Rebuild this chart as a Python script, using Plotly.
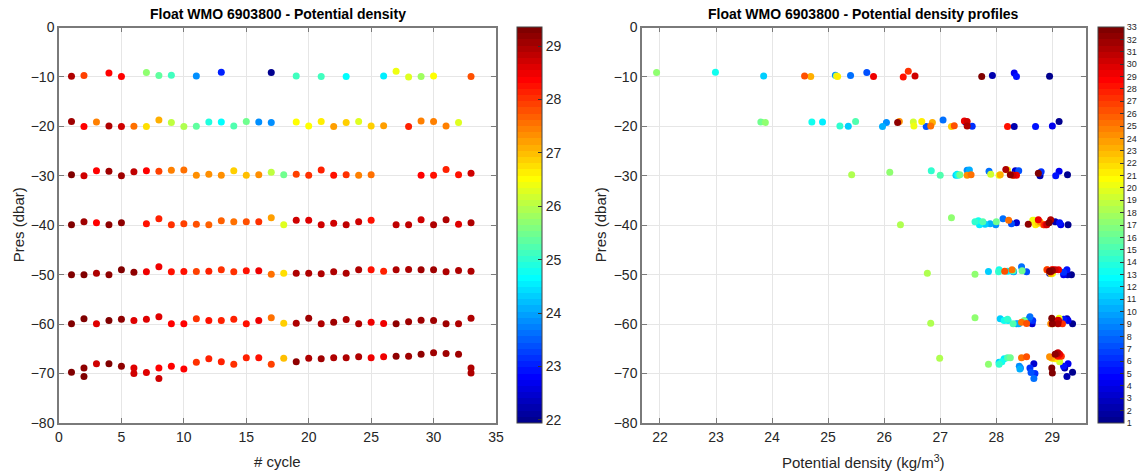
import numpy as np
import plotly.graph_objects as go

# ---------------- data (one list per nominal pressure level) ----------------
CYC_10 = [1, 2, 4, 5, 7, 8, 9, 11, 13, 17, 19, 21, 23, 26, 27, 28, 29, 30, 33]
PRES_10 = [-9.86, -9.7, -9.2, -9.9, -9.1, -9.7, -9.65, -9.8, -9.05, -9.1, -9.8, -9.9, -9.9, -9.8, -8.85, -10.0, -9.9, -9.8, -9.9]
DENS_10 = [28.95, 27.93, 28.32, 28.36, 25.69, 25.4, 25.13, 23.85, 22.99, 21.94, 25.15, 25.17, 24.69, 24.58, 26.43, 26.34, 25.81, 26.55, 27.74]

CYC_20 = [1, 2, 3, 4, 5, 6, 7, 8, 9, 10, 11, 12, 13, 14, 15, 16, 17, 19, 20, 21, 22, 23, 24, 25, 26, 28, 29, 30, 31, 32]
PRES_20 = [-19.0, -20.0, -19.1, -19.9, -20.0, -19.95, -20.0, -18.7, -19.2, -20.0, -19.95, -19.1, -19.1, -19.9, -19.0, -19.1, -19.2,
           -19.1, -19.9, -19.0, -20.0, -19.2, -19.0, -19.9, -19.85, -20.0, -18.9, -19.0, -19.9, -19.2]
DENS_20 = [29.12, 28.32, 27.45, 29.0, 28.7, 27.57, 26.75, 27.05, 26.04, 25.97, 25.36, 24.9, 24.71, 25.21, 25.49, 23.8, 23.88,
           26.52, 26.53, 26.67, 27.2, 26.86, 26.27, 26.83, 27.25, 28.2, 27.43, 27.48, 27.48, 26.24]

CYC_30 = list(range(1, 26)) + [29, 30, 31, 32, 33]
PRES_30 = [-29.8, -30.0, -29.0, -29.1, -30.0, -29.2, -29.0, -29.1, -28.9, -28.8, -29.9, -29.7, -29.9, -29.0, -29.9, -29.8, -29.3,
           -29.8, -29.7, -29.9, -28.8, -29.9, -29.8, -29.9, -29.8, -29.9, -29.9, -28.7, -29.8, -29.5]
DENS_30 = [29.27, 28.78, 28.34, 29.12, 29.06, 28.8, 28.4, 27.87, 27.48, 27.52, 27.28, 27.3, 27.32, 26.84, 27.0, 27.35, 26.1,
           25.42, 27.9, 28.05, 28.2, 28.3, 28.07, 27.48, 27.55, 28.36, 28.3, 28.17, 28.25, 28.75]

CYC_40 = [1, 2, 3, 4, 5] + list(range(7, 26)) + list(range(27, 34))
PRES_40 = [-39.9, -39.3, -39.5, -39.9, -39.5, -39.7, -38.7, -39.9, -39.7, -39.8, -39.9, -39.1, -39.3, -39.3, -39.3, -38.5,
           -39.9, -39.0, -39.0, -39.9, -39.6, -39.9, -39.3, -39.0, -39.9, -39.9, -38.9, -39.9, -38.9, -39.8, -39.5]
DENS_40 = [29.28, 29.05, 28.36, 29.15, 29.13, 28.27, 28.12, 27.99, 27.89, 27.8, 27.7, 27.68, 27.62, 27.76, 28.0, 27.2,
           26.29, 28.68, 28.65, 28.7, 28.75, 28.84, 28.78, 28.22, 28.85, 28.88, 28.75, 28.9, 28.97, 28.57, 28.94]

CYC_50 = list(range(1, 34))
PRES_50 = [-50.0, -50.0, -49.7, -50.0, -49.0, -49.5, -49.4, -48.4, -49.4, -49.35, -49.35, -49.3, -49.0, -49.4, -49.2, -49.2,
           -49.9, -49.7, -49.7, -49.7, -49.8, -49.4, -49.7, -49.0, -49.0, -49.3, -49.0, -48.95, -49.0, -49.0, -49.4, -49.15, -49.3]
DENS_50 = [29.34, 29.27, 28.95, 29.2, 29.26, 29.2, 28.54, 28.45, 28.31, 28.3, 27.86, 28.2, 28.05, 28.04, 28.3, 28.46,
           27.62, 26.77, 29.0, 29.0, 28.98, 28.95, 28.97, 28.9, 28.28, 28.15, 28.91, 29.0, 29.11, 29.05, 28.97, 29.0, 28.95]

CYC_60 = list(range(1, 34))
PRES_60 = [-59.9, -58.9, -59.9, -59.25, -59.0, -59.25, -59.0, -58.5, -59.9, -59.9, -58.9, -59.25, -59.25, -59.0, -59.9, -59.25,
           -58.7, -59.8, -59.8, -58.8, -59.9, -59.6, -59.05, -59.9, -59.6, -59.85, -59.9, -59.5, -59.2, -59.25, -59.9, -59.9, -58.8]
DENS_60 = [29.36, 29.26, 28.64, 29.28, 29.2, 28.65, 28.58, 28.6, 28.36, 28.4, 28.07, 28.21, 28.14, 28.2, 28.3, 28.5,
           27.62, 26.83, 29.0, 29.12, 29.0, 29.05, 29.0, 28.97, 28.45, 28.54, 29.18, 29.05, 29.1, 29.11, 29.1, 29.0, 28.99]

CYC_70 = [1, 2, 2, 3, 4, 5, 6, 6, 7, 8, 8, 9, 10, 11, 12, 13, 14, 15, 16, 17, 18, 19, 20, 21, 22, 23, 24, 25, 26,
          27, 28, 29, 30, 31, 32, 33, 33]
PRES_70 = [-69.75, -68.9, -70.6, -68.0, -68.0, -68.5, -68.9, -70.0, -69.8, -68.9, -71.0, -68.5, -69.1, -67.7, -67.0, -67.6,
           -68.1, -66.8, -66.8, -68.1, -66.9, -67.6, -66.9, -67.0, -66.8, -66.8, -66.6, -66.8, -66.6, -66.5, -66.5, -66.1,
           -65.8, -65.95, -66.1, -68.9, -69.9]
DENS_70 = [29.36, 29.22, 29.26, 28.67, 29.28, 29.2, 28.6, 28.69, 28.62, 28.43, 28.67, 28.41, 28.42, 28.05, 28.14, 28.1,
           28.05, 28.2, 28.25, 27.86, 26.99, 29.13, 29.0, 29.05, 28.98, 29.0, 28.95, 28.45, 28.54, 29.16, 29.1, 29.13,
           29.1, 29.08, 29.05, 28.99, 29.0]

X1_TICKS = [0, 5, 10, 15, 20, 25, 30, 35]
X2_TICKS = [22, 23, 24, 25, 26, 27, 28, 29]
Y_TICKS = [-80, -70, -60, -50, -40, -30, -20, -10, 0]
CB1_TICKS = [22, 23, 24, 25, 26, 27, 28, 29]

cycle = CYC_10 + CYC_20 + CYC_30 + CYC_40 + CYC_50 + CYC_60 + CYC_70
pres = PRES_10 + PRES_20 + PRES_30 + PRES_40 + PRES_50 + PRES_60 + PRES_70
dens = DENS_10 + DENS_20 + DENS_30 + DENS_40 + DENS_50 + DENS_60 + DENS_70

# ---------------- MATLAB jet(64) colormap ----------------
def jet(m=64):
    n = int(np.ceil(m / 4))
    u = np.concatenate([np.arange(1, n + 1) / n, np.ones(n - 1), np.arange(n, 0, -1) / n])
    g = int(np.ceil(n / 2)) - (1 if m % 4 == 1 else 0) + np.arange(1, len(u) + 1)
    r = g + n
    b = g - n
    J = np.zeros((m, 3))
    mr = r <= m
    J[r[mr] - 1, 0] = u[mr]
    mg = g <= m
    J[g[mg] - 1, 1] = u[mg]
    mb = b > 0
    J[b[mb] - 1, 2] = u[mb]
    scale = []
    for i, c in enumerate(J):
        col = "rgb(%d,%d,%d)" % tuple(int(round(v * 255)) for v in c)
        scale.append([i / m, col])
        scale.append([(i + 1) / m, col])
    return scale

JET = jet(64)

# ---------------- layout geometry (pixels) ----------------
W, H = 1137, 475
L_X0, L_X1 = 59, 496
R_X0, R_X1 = 642, 1086
Y_TOP, Y_BOT = 27.5, 423
FONT = "Liberation Sans, Arial, Helvetica, sans-serif"
TXT = "#262626"
AX = "#7a7a7a"
GRID = "#e6e6e6"

def fx(p):
    return p / W

def fy(p):
    return 1 - p / H

fig = go.Figure()
fig.add_trace(go.Scatter(x=cycle, y=pres, mode="markers",
                         marker=dict(size=7, color=dens, coloraxis="coloraxis"),
                         xaxis="x", yaxis="y", showlegend=False, hoverinfo="skip"))
fig.add_trace(go.Scatter(x=dens, y=pres, mode="markers",
                         marker=dict(size=7, color=cycle, coloraxis="coloraxis2"),
                         xaxis="x2", yaxis="y2", showlegend=False, hoverinfo="skip"))

axis_common = dict(showgrid=True, gridcolor=GRID, gridwidth=1, showline=True, linecolor=AX, linewidth=1.5,
                   mirror="ticks", ticks="inside", ticklen=5, tickcolor=AX, zeroline=False,
                   tickfont=dict(family=FONT, size=14, color=TXT))

fig.update_layout(
    width=W, height=H, margin=dict(l=0, r=0, t=0, b=0, autoexpand=False),
    paper_bgcolor="white", plot_bgcolor="white",
    font=dict(family=FONT, color=TXT),
    xaxis=dict(domain=[fx(L_X0), fx(L_X1)], range=[0, 35], tickvals=X1_TICKS, anchor="y", **axis_common),
    yaxis=dict(domain=[fy(Y_BOT), fy(Y_TOP)], range=[-80, 0], tickvals=Y_TICKS, anchor="x", **axis_common),
    xaxis2=dict(domain=[fx(R_X0), fx(R_X1)], range=[21.68, 29.6], tickvals=X2_TICKS, anchor="y2", **axis_common),
    yaxis2=dict(domain=[fy(Y_BOT), fy(Y_TOP)], range=[-80, 0], tickvals=Y_TICKS, anchor="x2", **axis_common),
    coloraxis=dict(colorscale=JET, cmin=min(dens), cmax=max(dens),
                   colorbar=dict(x=fx(517), xanchor="left", y=fy(Y_BOT), yanchor="bottom",
                                 len=(Y_BOT - Y_TOP) / H, lenmode="fraction", thickness=25, thicknessmode="pixels",
                                 xpad=0, ypad=0, outlinewidth=1, outlinecolor="#444",
                                 ticks="inside", ticklen=4, tickcolor="#333", tickvals=CB1_TICKS,
                                 tickfont=dict(family=FONT, size=14, color=TXT))),
    coloraxis2=dict(colorscale=JET, cmin=min(cycle), cmax=max(cycle),
                    colorbar=dict(x=fx(1098), xanchor="left", y=fy(Y_BOT), yanchor="bottom",
                                  len=(Y_BOT - Y_TOP) / H, lenmode="fraction", thickness=26, thicknessmode="pixels",
                                  xpad=0, ypad=0, outlinewidth=1, outlinecolor="#444",
                                  ticks="inside", ticklen=4, tickcolor="#333",
                                  tickvals=sorted(set(cycle)),
                                  tickfont=dict(family=FONT, size=9, color=TXT))),
)

annotations = [
    dict(text="<b>Float WMO 6903800 - Potential density</b>", x=fx((L_X0 + L_X1) / 2), y=fy(14),
         font=dict(size=14, color="black")),
    dict(text="<b>Float WMO 6903800 - Potential density profiles</b>", x=fx((R_X0 + R_X1) / 2), y=fy(14),
         font=dict(size=14, color="black")),
    dict(text="# cycle", x=fx((L_X0 + L_X1) / 2), y=fy(461), font=dict(size=15, color=TXT)),
    dict(text="Potential density (kg/m<sup>3</sup>)", x=fx((R_X0 + R_X1) / 2), y=fy(461), font=dict(size=15, color=TXT)),
    dict(text="Pres (dbar)", x=fx(18), y=fy((Y_TOP + Y_BOT) / 2), textangle=-90, font=dict(size=15, color=TXT)),
    dict(text="Pres (dbar)", x=fx(600), y=fy((Y_TOP + Y_BOT) / 2), textangle=-90, font=dict(size=15, color=TXT)),
]
for a in annotations:
    a.update(xref="paper", yref="paper", showarrow=False, xanchor="center", yanchor="middle")
    a["font"]["family"] = FONT
fig.update_layout(annotations=annotations)

fig.write_html("out.html")
